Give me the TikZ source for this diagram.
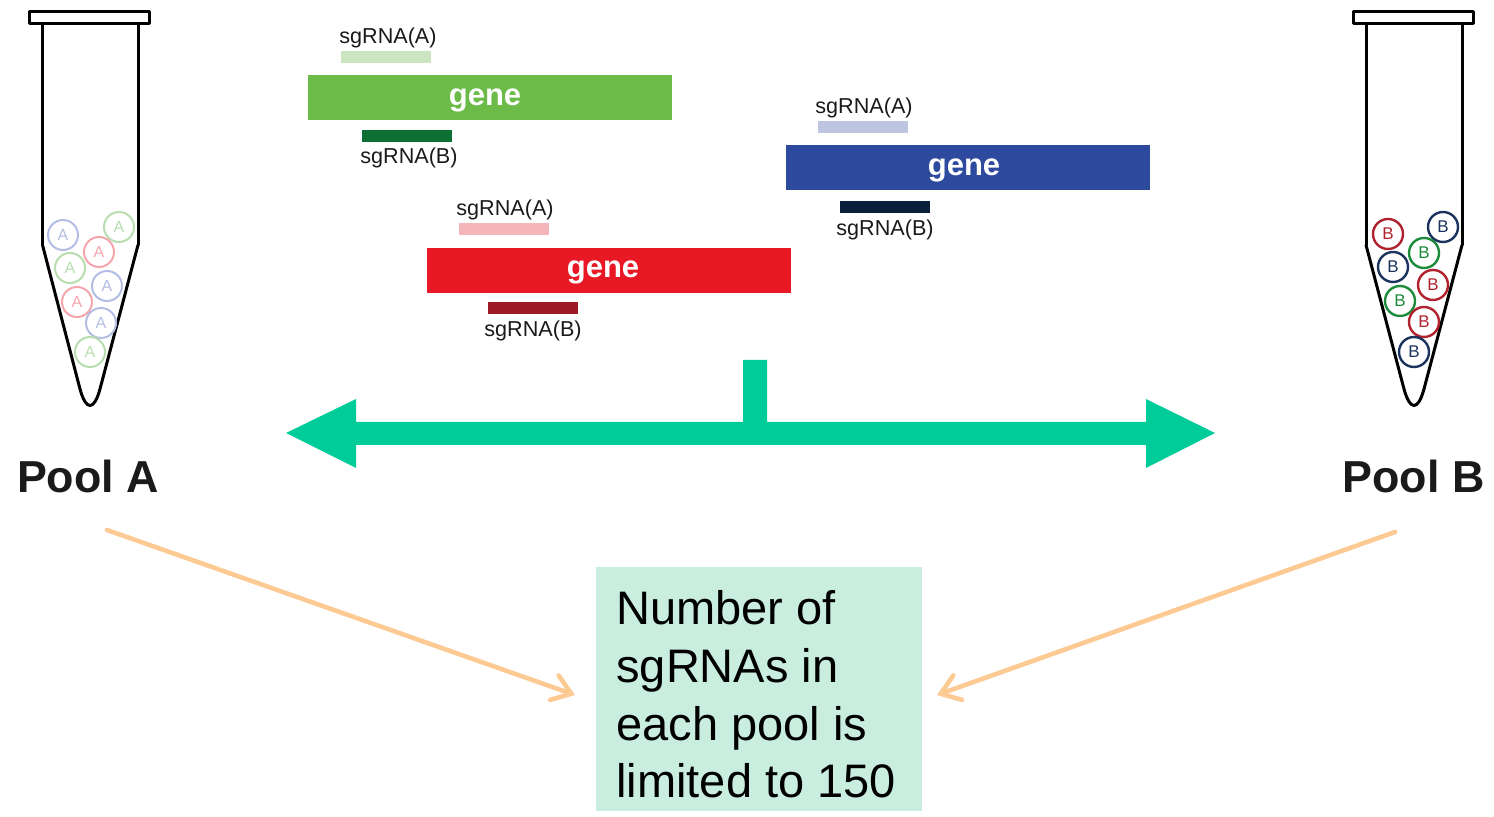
\documentclass[tikz,border=0pt]{standalone}
\usepackage{fontspec}
\setmainfont{Liberation Sans}
\setsansfont{Liberation Sans}
\usetikzlibrary{arrows.meta}

\definecolor{geneG}{RGB}{108,187,73}
\definecolor{sgAG}{RGB}{202,229,192}
\definecolor{sgBG}{RGB}{12,112,52}
\definecolor{geneR}{RGB}{232,24,36}
\definecolor{sgAR}{RGB}{244,182,186}
\definecolor{sgBR}{RGB}{156,27,38}
\definecolor{geneB}{RGB}{46,74,158}
\definecolor{sgAB}{RGB}{190,197,224}
\definecolor{sgBB}{RGB}{10,32,58}
\definecolor{arrowgreen}{RGB}{0,204,153}
\definecolor{peach}{RGB}{253,202,148}
\definecolor{mint}{RGB}{201,237,223}
\definecolor{lblue}{RGB}{180,190,228}
\definecolor{lgreen}{RGB}{184,222,176}
\definecolor{lred}{RGB}{244,166,172}
\definecolor{dred}{RGB}{176,35,46}
\definecolor{dnavy}{RGB}{27,52,94}
\definecolor{dgreen}{RGB}{30,139,60}
\definecolor{ink}{RGB}{26,26,26}

\tikzset{
  genebox/.style={fill=#1, minimum width=182pt, minimum height=22.5pt, inner sep=0,
    text height=7.5pt, text depth=0pt, text=white, font=\bfseries\fontsize{15.5}{16}\selectfont},
  genetext/.style={inner sep=0, text height=7.5pt, text depth=0pt, text=white,
    font=\bfseries\fontsize{15.5}{16}\selectfont},
  sgbar/.style={fill=#1, minimum width=45pt, minimum height=6pt, inner sep=0},
  sglabel/.style={anchor=base, inner sep=0, text=ink, font=\fontsize{10.8}{12}\selectfont},
  tubeline/.style={draw=black, line width=1.5pt, line cap=round, line join=round},
  ballA/.style={circle, draw=#1, text=#1, line width=1pt, minimum size=15pt, inner sep=0,
    font=\fontsize{8}{8}\selectfont},
  ballB/.style={circle, draw=#1, text=#1, line width=1.2pt, minimum size=15pt, inner sep=0,
    font=\fontsize{8.5}{8.5}\selectfont},
  poollabel/.style={anchor=base, inner sep=0, text=ink, font=\bfseries\fontsize{22.4}{26}\selectfont},
  peachline/.style={draw=peach, line width=2.3pt, line cap=round,
    -{Straight Barb[length=9pt,width=13pt,line cap=round]}},
}

\begin{document}
\begin{tikzpicture}[x=0.5pt, y=-0.5pt]
\useasboundingbox (0,0) rectangle (1494,817);

% ---- tube A ----
\draw[tubeline] (29,12) rectangle (149,24);
\draw[tubeline] (42.5,24) -- (42.5,245);
\draw[tubeline] (138,24) -- (138,245);
\draw[tubeline] (42.5,245) -- (80,389) .. controls (86,411) and (94,411) .. (100,389) -- (138,245);
\node[ballA=lblue]  (a1) at (63,235)  {A};
\node[ballA=lgreen] (a2) at (119,227) {A};
\node[ballA=lred]   (a3) at (99,252)  {A};
\node[ballA=lgreen] (a4) at (70,268)  {A};
\node[ballA=lblue]  (a5) at (107,286) {A};
\node[ballA=lred]   (a6) at (77,302)  {A};
\node[ballA=lblue]  (a7) at (101,323) {A};
\node[ballA=lgreen] (a8) at (90,352)  {A};

% ---- tube B ----
\draw[tubeline] (1353,12) rectangle (1473,24);
\draw[tubeline] (1366,24) -- (1366,245);
\draw[tubeline] (1462,24) -- (1462,245);
\draw[tubeline] (1366,245) -- (1404,389) .. controls (1410,411) and (1418,411) .. (1424,389) -- (1462,245);
\node[ballB=dred]   (b1) at (1388,234) {B};
\node[ballB=dnavy]  (b2) at (1443,227) {B};
\node[ballB=dgreen] (b3) at (1424,253) {B};
\node[ballB=dnavy]  (b4) at (1393,267) {B};
\node[ballB=dred]   (b5) at (1433,285) {B};
\node[ballB=dgreen] (b6) at (1400,301) {B};
\node[ballB=dred]   (b7) at (1424,322) {B};
\node[ballB=dnavy]  (b8) at (1414,352) {B};

% ---- green gene ----
\node[sglabel] (gAl) at (388,44) {sgRNA(A)};
\node[sgbar=sgAG] (gA) at (385.5,57) {};
\node[genebox=geneG] (gG) at (489.5,98) {};
\node[genetext] (gGt) at (485,98) {gene};
\node[sgbar=sgBG] (gB) at (407,136) {};
\node[sglabel] (gBl) at (409,164) {sgRNA(B)};

% ---- red gene ----
\node[sglabel] (rAl) at (505,216) {sgRNA(A)};
\node[sgbar=sgAR] (rA) at (504,229.5) {};
\node[genebox=geneR] (rG) at (609,270.5) {};
\node[genetext] (rGt) at (603,270.5) {gene};
\node[sgbar=sgBR] (rB) at (532.5,308) {};
\node[sglabel] (rBl) at (533,337) {sgRNA(B)};

% ---- blue gene ----
\node[sglabel] (bAl) at (864,114) {sgRNA(A)};
\node[sgbar=sgAB] (bA) at (863,127) {};
\node[genebox=geneB] (bG) at (968,168) {};
\node[genetext] (bGt) at (964,168) {gene};
\node[sgbar=sgBB] (bB) at (884.5,207) {};
\node[sglabel] (bBl) at (885,236) {sgRNA(B)};

% ---- double-headed arrow with stem ----
\fill[arrowgreen] (286,433) -- (356,399) -- (356,422) -- (743,422) -- (743,360)
  -- (767,360) -- (767,422) -- (1146,422) -- (1146,399) -- (1215,433)
  -- (1146,468) -- (1146,445) -- (356,445) -- (356,468) -- cycle;

% ---- pool labels ----
\node[poollabel] (poolA) at (88,493) {Pool A};
\node[poollabel] (poolB) at (1413.5,493) {Pool B};

% ---- summary box ----
\node[fill=mint, minimum width=163pt, minimum height=122pt, inner sep=0, anchor=north west]
  (box) at (596,567) {};
\node[anchor=north west, align=left, inner sep=0, text=black,
  font=\fontsize{23.5}{28.9}\selectfont] (boxtext) at (616,590)
  {Number of\\sgRNAs in\\each pool is\\limited to 150};

% ---- arrows into the box ----
\coordinate (fromA) at (107,530);
\coordinate (toA) at (575,695);
\coordinate (fromB) at (1395,532);
\coordinate (toB) at (937,695);
\draw[peachline] (fromA) -- (toA);
\draw[peachline] (fromB) -- (toB);
\end{tikzpicture}
\end{document}
